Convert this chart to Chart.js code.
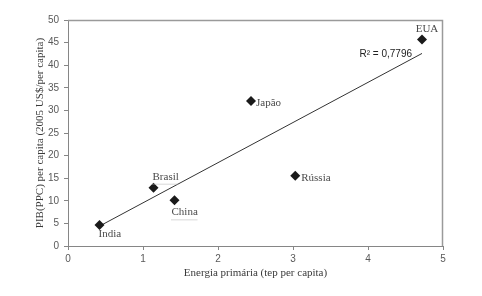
<!DOCTYPE html>
<html><head><meta charset="utf-8">
<script src="https://cdn.jsdelivr.net/npm/chart.js@4.4.0/dist/chart.umd.min.js"></script>
<style>html,body{margin:0;padding:0;background:#fff}#wrap{width:482px;height:296px}</style>
</head><body><div id="wrap"><canvas id="c" width="482" height="296"></canvas></div>
<script>
const countries = ["India", "Brasil", "China", "Japão", "Rússia", "EUA"];
const energy = [0.42, 1.14, 1.42, 2.44, 3.03, 4.72];
const gdp = [4.65, 12.9, 10.1, 32.1, 15.55, 45.7];
const trendX = [0.42, 4.72];
const trendY = [4.4, 42.6];
const xTicks = [0, 1, 2, 3, 4, 5];
const yTicks = [0, 5, 10, 15, 20, 25, 30, 35, 40, 45, 50];
const r2Label = "R² = 0,7796";

// label placement: [dx, dy, align]
const labelPlace = {
  "India": [-1, 9, "left"],
  "Brasil": [-1, -11, "left"],
  "China": [-3, 12, "left"],
  "Japão": [5, 2, "left"],
  "Rússia": [6, 2, "left"],
  "EUA": [5, -10, "center"]
};
const underlined = ["Brasil", "China"];

const pts = energy.map((x, i) => ({x, y: gdp[i]}));
const trend = trendX.map((x, i) => ({x, y: trendY[i]}));

const overlay = {
  id: 'overlay',
  afterDraw(chart) {
    const {ctx, chartArea: a, scales: {x, y}} = chart;
    ctx.save();
    ctx.strokeStyle = '#9a9a9a';
    ctx.lineWidth = 1.5;
    ctx.beginPath();
    ctx.moveTo(a.left, a.top + 0.5);
    ctx.lineTo(a.right - 0.5, a.top + 0.5);
    ctx.lineTo(a.right - 0.5, a.bottom);
    ctx.stroke();
    ctx.font = '11px "Liberation Serif", "Times New Roman", serif';
    ctx.fillStyle = '#4a4a4a';
    ctx.textBaseline = 'middle';
    countries.forEach((c, i) => {
      const p = labelPlace[c];
      const px = x.getPixelForValue(energy[i]) + p[0];
      const py = y.getPixelForValue(gdp[i]) + p[1];
      ctx.textAlign = p[2];
      ctx.fillText(c, px, py);
      if (underlined.includes(c)) {
        const w = ctx.measureText(c).width;
        ctx.strokeStyle = '#b0b0b0';
        ctx.lineWidth = 1;
        ctx.setLineDash([1, 1]);
        ctx.beginPath();
        ctx.moveTo(px, py + 7.5);
        ctx.lineTo(px + w, py + 7.5);
        ctx.stroke();
        ctx.setLineDash([]);
      }
    });
    ctx.font = '10px "Liberation Sans", Arial, sans-serif';
    ctx.fillStyle = '#222';
    ctx.textAlign = 'right';
    ctx.fillText(r2Label, x.getPixelForValue(trendX[1]) - 10, y.getPixelForValue(trendY[1]) + 1);
    ctx.restore();
  }
};

new Chart(document.getElementById('c'), {
  type: 'scatter',
  data: {
    datasets: [
      {
        data: pts,
        pointStyle: 'rectRot',
        pointRadius: 5,
        pointHoverRadius: 5,
        backgroundColor: '#1a1a1a',
        borderColor: '#1a1a1a',
        borderWidth: 0,
        order: 1
      },
      {
        type: 'line',
        data: trend,
        borderColor: '#333',
        borderWidth: 1,
        pointRadius: 0,
        fill: false,
        order: 2
      }
    ]
  },
  options: {
    responsive: false,
    animation: false,
    events: [],
    layout: {padding: {left: 0, right: 39, top: 20, bottom: 0}},
    plugins: {legend: {display: false}, tooltip: {enabled: false}},
    scales: {
      x: {
        type: 'linear', min: 0, max: 5,
        afterBuildTicks: s => { s.ticks = xTicks.map(v => ({value: v})); },
        afterFit: s => { s.height = 50; },
        grid: {drawOnChartArea: false, drawTicks: true, tickLength: 4, color: '#868686'},
        border: {display: true, color: '#868686', width: 1},
        ticks: {color: '#595959', font: {family: '"Liberation Sans", Arial, sans-serif', size: 10}, padding: 3, maxRotation: 0},
        title: {display: true, text: 'Energia primária (tep per capita)', color: '#3a3a3a',
          font: {family: '"Liberation Serif", "Times New Roman", serif', size: 11}, padding: {top: 0, bottom: 16}}
      },
      y: {
        type: 'linear', min: 0, max: 50,
        afterBuildTicks: s => { s.ticks = yTicks.map(v => ({value: v})); },
        afterFit: s => { s.width = 68; },
        grid: {drawOnChartArea: false, drawTicks: true, tickLength: 4, color: '#868686'},
        border: {display: true, color: '#868686', width: 1},
        ticks: {color: '#595959', font: {family: '"Liberation Sans", Arial, sans-serif', size: 10}, padding: 5},
        title: {display: true, text: 'PIB(PPC) per capita (2005 US$/per capita)', color: '#3a3a3a',
          font: {family: '"Liberation Serif", "Times New Roman", serif', size: 11}, padding: {top: 34, bottom: 0}}
      }
    }
  },
  plugins: [overlay]
});
</script></body></html>
